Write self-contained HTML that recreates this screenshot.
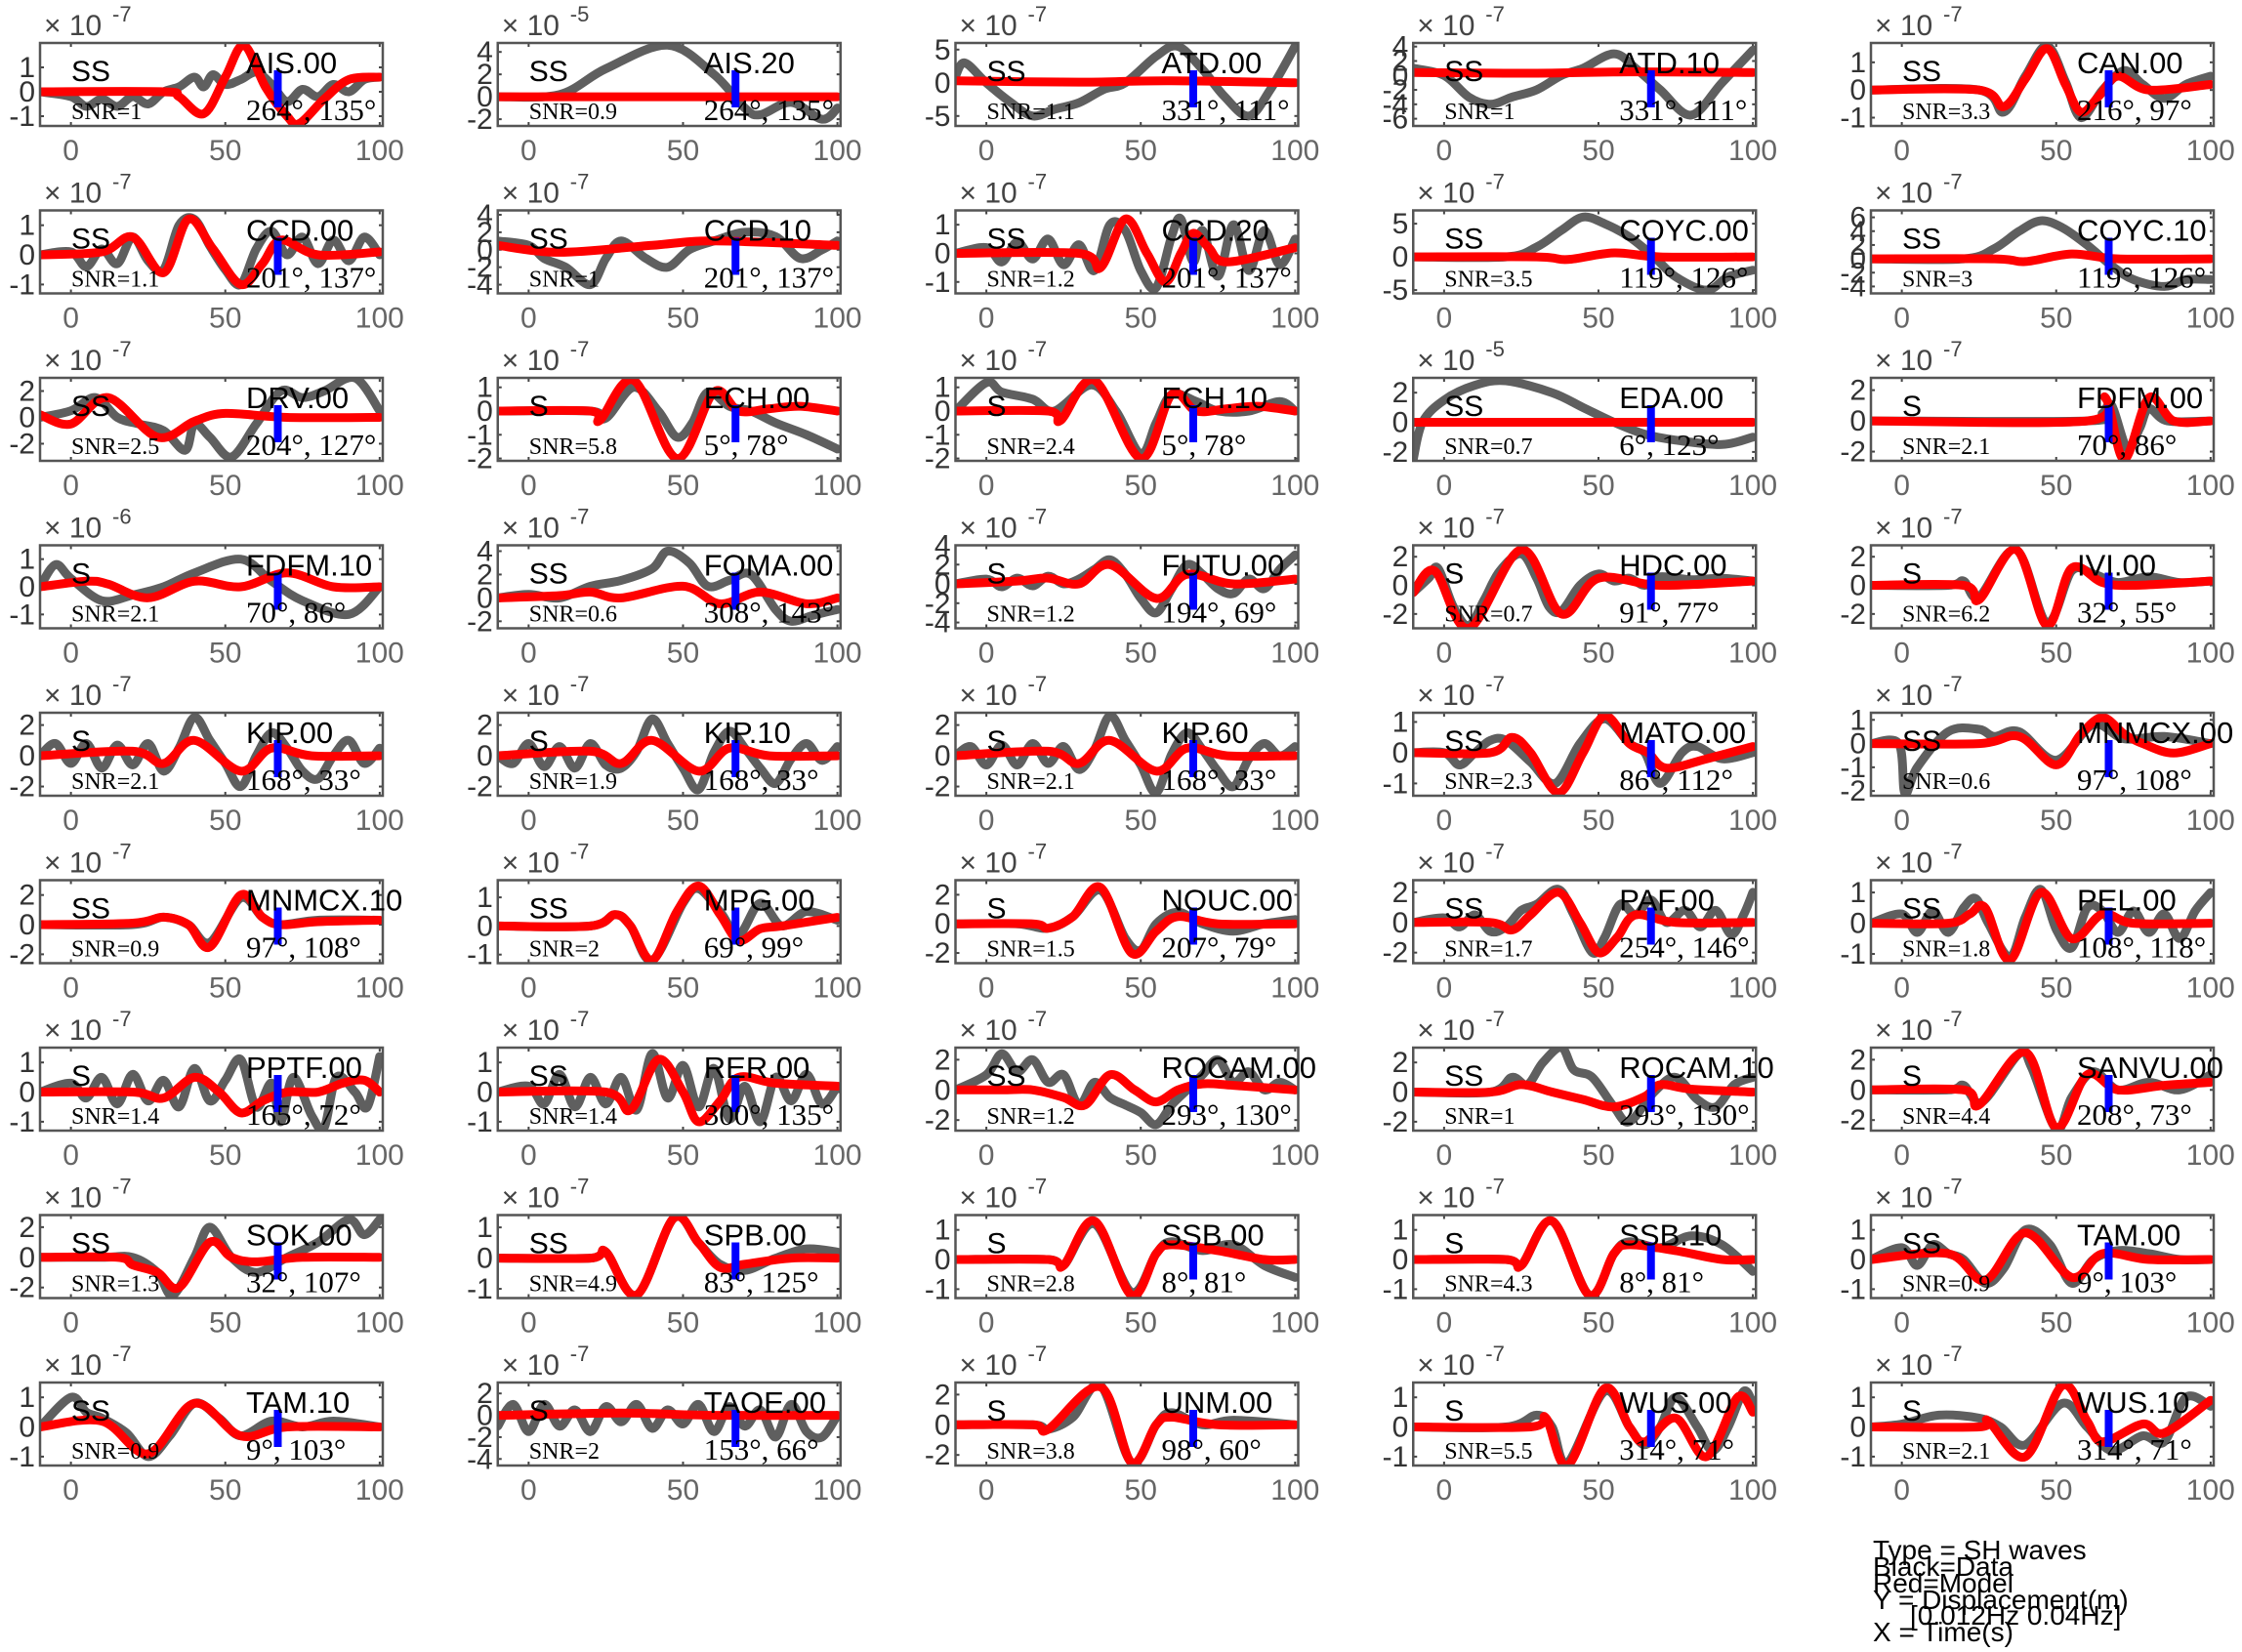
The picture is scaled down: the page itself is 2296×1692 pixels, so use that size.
<!DOCTYPE html>
<html><head><meta charset="utf-8"><title>SH waveform fits</title>
<style>
html,body{margin:0;padding:0;background:#fff;}
svg text{font-family:"Liberation Sans",sans-serif;}
.serif{font-family:"Liberation Serif",serif !important;}
</style></head>
<body>
<svg id="fig" width="2296" height="1687" viewBox="0 0 2296 1687" xmlns="http://www.w3.org/2000/svg">
<g id="panels"></g>
<g font-size="28" fill="#000">
<text x="1918" y="1597">Type = SH waves</text>
<text x="1918" y="1614">Black=Data</text>
<text x="1918" y="1631">Red=Model</text>
<text x="1918" y="1648">Y = Displacement(m)</text>
<text x="1956" y="1664">[0.012Hz 0.04Hz]</text>
<text x="1918" y="1681">X = Time(s)</text>
</g>
</svg>
<script>
const stations=["AIS.00","AIS.20","ATD.00","ATD.10","CAN.00","CCD.00","CCD.10","CCD.20","COYC.00","COYC.10","DRV.00","ECH.00","ECH.10","EDA.00","FDFM.00","FDFM.10","FOMA.00","FUTU.00","HDC.00","IVI.00","KIP.00","KIP.10","KIP.60","MATO.00","MNMCX.00","MNMCX.10","MPG.00","NOUC.00","PAF.00","PEL.00","PPTF.00","RER.00","ROCAM.00","ROCAM.10","SANVU.00","SOK.00","SPB.00","SSB.00","SSB.10","TAM.00","TAM.10","TAOE.00","UNM.00","WUS.00","WUS.10"];
const phases=["SS","SS","SS","SS","SS","SS","SS","SS","SS","SS","SS","S","S","SS","S","S","SS","S","S","S","S","S","S","SS","SS","SS","SS","S","SS","SS","S","SS","SS","SS","S","SS","SS","S","S","SS","SS","S","S","S","S"];
const snrs=["1","0.9","1.1","1","3.3","1.1","1","1.2","3.5","3","2.5","5.8","2.4","0.7","2.1","2.1","0.6","1.2","0.7","6.2","2.1","1.9","2.1","2.3","0.6","0.9","2","1.5","1.7","1.8","1.4","1.4","1.2","1","4.4","1.3","4.9","2.8","4.3","0.9","0.9","2","3.8","5.5","2.1"];
const azimuths=[264,264,331,331,216,201,201,201,119,119,204,5,5,6,70,70,308,194,91,32,168,168,168,86,97,97,69,207,254,108,165,300,293,293,208,32,83,8,8,9,9,153,98,314,314];
const takeoffs=[135,135,111,111,97,137,137,137,126,126,127,78,78,123,86,86,143,69,77,55,33,33,33,112,108,108,99,79,146,118,72,135,130,130,73,107,125,81,81,103,103,66,60,71,71];
const exponents=[-7,-5,-7,-7,-7,-7,-7,-7,-7,-7,-7,-7,-7,-5,-7,-6,-7,-7,-7,-7,-7,-7,-7,-7,-7,-7,-7,-7,-7,-7,-7,-7,-7,-7,-7,-7,-7,-7,-7,-7,-7,-7,-7,-7,-7];
const yTicks=[[-1,0,1],[-2,0,2,4],[-5,0,5],[-6,-4,-2,0,2,4],[-1,0,1],
[-1,0,1],[-4,-2,0,2,4],[-1,0,1],[-5,0,5],[-4,-2,0,2,4,6],
[-2,0,2],[-2,-1,0,1],[-2,-1,0,1],[-2,0,2],[-2,0,2],
[-1,0,1],[-2,0,2,4],[-4,-2,0,2,4],[-2,0,2],[-2,0,2],
[-2,0,2],[-2,0,2],[-2,0,2],[-1,0,1],[-2,-1,0,1],
[-2,0,2],[-1,0,1],[-2,0,2],[-2,0,2],[-1,0,1],
[-1,0,1],[-1,0,1],[-2,0,2],[-2,0,2],[-2,0,2],
[-2,0,2],[-1,0,1],[-1,0,1],[-1,0,1],[-1,0,1],
[-1,0,1],[-4,-2,0,2],[-2,0,2],[-1,0,1],[-1,0,1]];
const yMins=[-1.4,-2.6,-6.5,-7,-1.3,-1.3,-5,-1.4,-5.5,-5,-3.3,-2.1,-2.1,-2.6,-2.6,-1.5,-2.6,-4.6,-3,-3,-2.6,-2.6,-2.6,-1.4,-2.2,-2.6,-1.3,-2.7,-2.7,-1.3,-1.3,-1.3,-2.7,-2.6,-2.7,-2.7,-1.3,-1.3,-1.3,-1.3,-1.3,-4.6,-2.7,-1.3,-1.3];
const yMaxs=[2.0,4.8,6,4.5,1.7,1.5,4.5,1.5,7,7,3.0,1.4,1.4,3,2.8,1.5,4.5,4,2.8,2.8,2.8,2.8,2.8,1.3,1.3,3,1.6,3,2.8,1.4,1.5,1.5,2.8,3,2.8,2.8,1.4,1.5,1.5,1.5,1.5,3,2.8,1.5,1.5];
const dataSeries=[
[[-10,0],[0,-0.2],[5,-0.6],[10,-0.3],[15,-0.6],[20,-0.2],[25,-0.5],[30,0],[35,0.2],[40,0.6],[43,0.2],[46,0.7],[50,0.3],[55,0.5],[60,0.8],[65,0.3],[70,-0.4],[75,0.1],[80,-0.2],[85,0.3],[90,0],[95,0.5],[100,0.6]],
[[-10,0],[10,0.2],[25,2.5],[45,4.6],[60,2],[70,-1],[75,-1.6],[85,-0.5],[95,-2],[100,-1]],
[[-10,1],[-7,3],[0,0],[8,-3],[15,-5],[22,-4],[30,-3],[38,-1],[45,0],[55,4],[62,5.5],[70,2],[77,-2],[85,-5],[92,-1],[100,5.5]],
[[-10,1],[0,0],[8,-3],[15,-4],[22,-3],[30,-2],[38,0],[45,1],[55,3],[62,1],[70,-2],[80,-5.5],[90,-1],[100,3.5]],
[[-10,0],[25,0],[33,-0.8],[40,0.5],[47,1.6],[53,0.3],[58,-1],[65,0],[72,0.7],[78,0.2],[85,-0.3],[92,0.2],[100,0.5]],
[[-10,0],[0,0.1],[5,-0.4],[10,0.2],[15,-0.3],[20,0.6],[25,-0.2],[30,-0.5],[35,1],[40,1.2],[45,0.3],[50,-0.5],[55,-1],[60,0.2],[65,0.8],[70,0],[75,0.6],[80,-0.3],[85,0.5],[90,-0.2],[95,0.6],[100,0]],
[[-10,1],[0,0.5],[5,-1],[12,-2],[20,-4],[25,-1],[30,1],[38,-1],[45,-2],[52,0],[60,1],[70,2],[80,1.5],[88,-1],[95,0],[100,1]],
[[-10,0],[0,0.2],[5,-0.3],[10,0.4],[15,-0.2],[20,0.5],[25,-0.4],[30,0.3],[35,-0.6],[40,1],[45,0.8],[50,-0.6],[55,-1.2],[60,0.6],[63,1.2],[67,-0.3],[70,0.8],[75,-0.8],[80,1],[85,-0.6],[90,0.8],[95,-0.4],[100,0.5]],
[[-10,0],[20,0],[30,1.5],[38,4],[45,6],[52,5],[60,3],[68,0],[75,-3],[85,-5],[92,-3],[100,-2]],
[[-10,0],[20,0],[30,1.5],[38,4],[45,5.5],[52,4.5],[60,2],[68,-1],[75,-3],[85,-4],[92,-3],[100,-3]],
[[-10,0],[0,0.5],[8,1.5],[15,0],[22,-0.5],[30,-1],[37,-2.5],[40,-0.5],[45,-1.5],[52,-3],[60,-0.5],[68,2],[75,1.5],[82,2],[92,3],[100,0.5]],
[[-10,0],[20,0],[25,-0.3],[34,1],[42,0],[48,-1.1],[53,-0.5],[58,0.8],[65,0.2],[72,0],[80,-0.5],[90,-1],[100,-1.6]],
[[-10,0],[0,1.2],[5,0.8],[15,0.5],[22,0],[34,1.1],[42,0],[50,-1.8],[55,-0.5],[60,0.7],[68,0.4],[75,0],[85,0],[95,0.4],[100,0]],
[[-10,-2.5],[-7,0],[0,1.5],[10,2.5],[20,2.8],[35,2],[45,1],[55,0],[65,-0.8],[75,-1.2],[90,-1.5],[100,-1]],
[[-10,0],[60,0],[65,0.5],[68,1],[73,-1.8],[77,-0.5],[80,0.8],[86,0],[100,0]],
[[-10,0],[-5,0.8],[0,0.3],[10,-0.5],[20,-0.3],[30,0],[40,0.5],[55,1],[65,0.2],[75,-0.5],[90,-1],[100,0]],
[[-10,0],[0,0.3],[10,0],[20,1],[30,1.5],[40,2.5],[45,4],[52,3],[58,1],[65,1.5],[72,2],[80,-1],[85,-2],[92,-1.5],[100,-1]],
[[-10,0],[0,0.5],[5,-0.3],[10,0.6],[15,-0.2],[20,0.8],[25,0],[30,0.5],[35,1.5],[40,2.5],[45,1],[50,-1.5],[55,-3],[60,-0.5],[65,2],[70,1],[75,-0.5],[80,-1],[85,0.5],[90,-0.5],[95,1.5],[100,3]],
[[-10,-0.5],[-5,0.5],[-2,1.2],[3,-1.5],[8,-2.8],[13,-1],[18,1],[25,2.2],[30,0.5],[34,-1.5],[38,-1.8],[44,0],[50,0.8],[55,0.3],[60,0.5],[65,0],[70,0.6],[80,0.4],[90,0.5],[100,0.3]],
[[-10,0],[15,0],[20,0.3],[25,-0.8],[37,2.5],[47,-2.6],[55,1],[62,0.8],[70,0.2],[80,0.6],[90,0.2],[100,0.3]],
[[-10,0],[-5,0.8],[0,-0.5],[5,0.8],[10,-0.8],[15,0.7],[20,-0.6],[25,0.8],[30,-1],[35,0.5],[40,2.5],[45,1],[50,-0.5],[55,-2],[60,0],[65,1.5],[70,0.5],[75,-1],[80,-1.5],[85,0],[90,1],[95,-0.5],[100,0.5]],
[[-10,0],[-5,-0.5],[0,0.8],[5,-0.7],[10,0.6],[15,-0.8],[20,0.8],[25,-0.6],[30,-0.8],[35,0.3],[40,2.4],[45,0.8],[50,-0.8],[55,-2.2],[60,0.2],[65,1.6],[70,0.5],[75,-0.8],[80,-1.8],[85,-0.2],[90,0.8],[95,-0.3],[100,0.6]],
[[-10,0],[-5,0.6],[0,-0.6],[5,0.7],[10,-0.6],[15,0.8],[20,-0.5],[25,0.6],[30,-0.9],[35,0.4],[40,2.6],[45,1],[50,-0.6],[55,-2.4],[60,0.1],[65,1.5],[70,0.4],[75,-1],[80,-2],[85,-0.2],[90,0.8],[95,0],[100,0.6]],
[[-10,0],[0,0],[5,-0.4],[10,0],[15,0.4],[20,0.4],[28,-0.3],[36,-1],[44,0.3],[52,1.1],[60,0.3],[65,0],[70,-1],[77,0],[82,0.2],[90,-0.2],[100,0]],
[[-10,0],[-1,0],[1,-2.1],[5,-1],[15,0.5],[25,0.6],[30,0.3],[38,0.5],[50,-0.7],[62,0.8],[72,0.2],[85,0.3],[100,0]],
[[-10,0],[20,0],[30,0.5],[38,0],[45,-1.2],[55,1.8],[62,0.5],[68,0],[80,0.3],[100,0.3]],
[[-10,0],[20,0],[28,0.4],[33,0],[40,-1.2],[50,0.8],[55,1.3],[62,0.5],[68,-0.3],[75,0.8],[82,0],[90,0.5],[100,0.2]],
[[-10,0],[10,0],[20,-0.3],[28,0.5],[37,2.3],[45,-1],[50,-1.8],[55,0],[62,0.8],[70,0],[80,-0.5],[90,0],[100,0.3]],
[[-10,0],[0,0.3],[5,-0.3],[10,0.5],[15,-0.6],[20,-0.3],[25,0.8],[30,1.2],[37,2.2],[42,0.5],[48,-2],[52,-1],[57,1.2],[62,0.5],[67,1.5],[72,0],[78,0.8],[83,-0.3],[88,0.8],[93,-0.8],[97,0.5],[100,2]],
[[-10,0],[0,0.3],[5,-0.3],[10,0.4],[15,-0.3],[20,0.5],[24,0.8],[28,0],[35,-1.1],[40,0.2],[45,1.1],[50,-0.2],[55,-0.8],[60,0.5],[65,0.4],[70,-0.3],[75,0.4],[80,-0.3],[85,0.3],[90,-0.5],[95,0.4],[100,1]],
[[-10,0],[0,0.3],[5,-0.2],[10,0.5],[15,-0.4],[20,0.6],[25,-0.3],[30,0.4],[35,-0.5],[40,0.8],[45,-0.3],[50,0.4],[55,1.1],[60,-0.5],[65,0.3],[68,-1],[72,0.5],[78,-0.8],[82,-1.2],[86,0.5],[92,0],[96,-0.5],[100,1.2]],
[[-10,0],[0,0.2],[5,-0.4],[10,0.6],[15,-0.5],[20,0.5],[25,-0.4],[30,0.5],[35,-0.6],[40,1.3],[45,-0.2],[50,0.9],[55,-0.5],[60,0.8],[65,-0.9],[70,0.2],[75,-1],[80,0.5],[85,-0.3],[90,0.6],[95,-0.4],[100,0.2]],
[[-10,0],[0,1],[5,2.4],[10,1.2],[15,2],[20,0.5],[25,1],[30,-1],[35,0.5],[40,-0.5],[45,-1],[50,-1.5],[55,-2.3],[60,-1],[65,0],[70,1],[75,2],[80,0.5],[85,1.2],[90,0],[95,0.5],[100,0]],
[[-10,0],[15,0],[22,1],[27,0.5],[32,2],[38,3],[42,1.5],[48,1],[55,-1],[60,-2],[68,0],[75,1],[82,-0.5],[88,-1],[94,0.5],[100,1]],
[[-10,0],[15,0],[20,0.3],[26,-0.8],[38,2.4],[42,1.5],[50,-2.6],[55,-0.5],[62,1.2],[70,0],[80,0.5],[90,0],[100,1]],
[[-10,0],[10,0],[20,0],[28,-1],[33,-2.5],[40,0],[45,2],[52,0],[60,-1],[70,0],[80,1],[90,2.5],[95,1.5],[100,2.5]],
[[-10,0],[20,0],[25,0.2],[35,-1.2],[47,1.3],[55,0.5],[62,-0.2],[70,-0.4],[80,0],[90,0.3],[100,0.2]],
[[-10,0],[20,0],[25,-0.2],[35,1.2],[47,-1.1],[55,0.2],[60,0.6],[70,0.3],[80,0.5],[90,-0.2],[100,-0.6]],
[[-10,0],[20,0],[25,-0.2],[35,1.3],[47,-1.2],[55,0.2],[60,0.6],[70,0.4],[80,0.8],[90,0.5],[100,-0.4]],
[[-10,0],[0,0.4],[5,-0.2],[10,0.5],[15,0.2],[20,0],[27,-0.8],[33,-0.3],[40,1],[48,0.5],[55,-0.8],[62,0],[70,0.3],[80,0.2],[90,0],[100,0]],
[[-10,0],[0,1],[5,0.5],[10,0.3],[18,-0.2],[25,-1],[32,-0.3],[40,0.8],[48,0.3],[55,-0.3],[65,0.2],[75,0],[85,0.2],[100,0]],
[[-10,-1],[-5,1],[0,-1.5],[5,1],[10,-1],[15,0.5],[20,-1.5],[25,0.8],[30,-0.6],[35,1],[40,-1.2],[45,0.5],[50,-0.8],[55,1],[60,-1.5],[65,0.8],[70,-1],[75,0.5],[80,-2],[85,1],[90,-1.5],[95,-2],[100,0]],
[[-10,0],[15,0],[20,-0.3],[28,0.5],[37,2.6],[47,-2.5],[55,0],[60,0.8],[70,0],[80,0.3],[100,0]],
[[-10,0],[20,0],[30,0.4],[35,0],[40,-1.2],[52,1.2],[60,0],[65,-0.6],[70,0],[75,1],[82,0],[87,-0.8],[92,0],[97,1.2],[100,0.8]],
[[-10,0],[0,0.1],[12,0.4],[25,0.3],[32,0],[40,-0.6],[52,0.8],[60,0],[68,-0.8],[78,-0.3],[85,-0.5],[92,1],[100,0.7]]
];
const modelSeries=[
[[-10,0],[30,0],[35,-0.2],[43,-0.9],[50,0.6],[56,1.9],[63,0.2],[70,-1],[74,-1.3],[82,-0.3],[90,0.5],[100,0.6]],
[[-10,0],[100,0]],
[[-10,0.3],[30,0.1],[60,0.3],[100,0]],
[[-10,0.4],[30,0.3],[60,0.5],[100,0.4]],
[[-10,0],[25,0],[33,-0.6],[40,0.4],[47,1.5],[53,0.2],[58,-0.8],[64,-0.2],[70,0.5],[80,0],[100,0.2]],
[[-10,0],[10,0.1],[20,0.6],[30,-0.6],[38,1.2],[46,0.2],[55,-1],[62,-0.3],[68,0.5],[80,0],[100,0.1]],
[[-10,0.5],[10,-0.3],[40,0.5],[60,1],[100,0.5]],
[[-10,0],[30,0],[37,-0.5],[45,1.2],[52,0],[58,-1],[63,0],[67,0.7],[72,0.2],[78,-0.3],[100,0.2]],
[[-10,0],[30,0],[40,-0.4],[55,0.6],[70,0],[100,0]],
[[-10,0],[30,0],[40,-0.4],[55,0.7],[70,0],[100,0]],
[[-10,0.2],[0,-0.5],[12,1.5],[28,-1.5],[40,-0.3],[50,0.3],[70,0],[100,0]],
[[-10,0],[20,0],[23,-0.4],[34,1.3],[48,-2],[60,0.8],[68,0],[78,0.1],[88,0.2],[100,0]],
[[-10,0],[20,0],[24,-0.4],[35,1.3],[50,-2],[60,0.7],[68,0],[78,0.1],[88,0.2],[100,0]],
[[-10,0],[100,0]],
[[-10,0],[60,0],[66,1.5],[72,-2.5],[80,1.5],[88,0],[100,0]],
[[-10,0],[5,0.2],[12,0.1],[25,-0.4],[40,0.2],[55,0],[70,0.5],[85,0],[100,0]],
[[-10,0],[10,0.2],[20,0.5],[30,0],[50,1],[62,-0.5],[75,0.5],[90,-0.5],[100,0]],
[[-10,0],[10,0.3],[20,0.6],[30,0],[40,2],[55,-1.5],[65,1],[80,0],[100,0.5]],
[[-10,-0.5],[-3,1],[8,-3],[25,2.5],[38,-2],[50,0.5],[70,0],[100,0.3]],
[[-10,0],[20,0],[25,-1],[37,2.5],[47,-2.8],[55,1.2],[65,0.2],[75,0],[100,0.3]],
[[-10,0],[20,0.3],[30,-0.5],[40,1],[55,-1],[65,0.5],[78,0],[100,0]],
[[-10,0],[20,0.3],[30,-0.5],[40,1],[55,-1],[65,0.5],[78,0],[100,0]],
[[-10,0],[20,0.3],[30,-0.5],[40,1],[55,-1],[65,0.5],[78,0],[100,0]],
[[-10,0],[15,0],[22,0.5],[28,0],[37,-1.3],[45,0],[52,1.2],[60,0.3],[66,0],[72,-0.5],[85,-0.2],[100,0.2]],
[[-10,0],[25,0],[38,0.3],[50,-0.9],[58,0.4],[65,1.1],[72,0.4],[78,0],[88,-0.4],[100,0]],
[[-10,0],[20,0.1],[30,0.5],[38,0],[45,-1.5],[55,2],[62,0.5],[68,0],[80,0.2],[100,0.3]],
[[-10,0],[20,0],[28,0.4],[33,0],[40,-1.2],[48,0.5],[55,1.4],[62,0.4],[68,-0.5],[75,-0.1],[82,0],[100,0.3]],
[[-10,0],[15,0],[20,-0.3],[28,0.5],[37,2.5],[47,-2],[55,-0.5],[62,0.5],[75,0],[100,0]],
[[-10,0],[15,0],[22,-0.5],[28,0.5],[37,2],[44,0],[50,-2],[56,-1],[62,0.5],[75,0],[100,0]],
[[-10,0],[15,0],[22,0.3],[27,0.5],[35,-1.2],[45,1],[55,-0.5],[65,0.3],[75,0],[100,0]],
[[-10,0],[20,0],[30,-0.2],[40,0.5],[48,0],[55,-0.7],[62,-0.3],[70,0],[80,0],[88,0.3],[95,0.4],[100,0]],
[[-10,0],[25,0],[33,-0.6],[42,1.1],[50,0],[55,-1],[62,-0.3],[68,0.5],[80,0.3],[100,0.2]],
[[-10,0],[5,0],[15,0],[25,-0.5],[32,-1],[40,1],[48,0],[55,-0.8],[62,0],[70,0.4],[80,0.3],[100,0]],
[[-10,0],[15,0],[25,0.5],[35,0],[45,-0.5],[55,-1],[65,-0.3],[70,0.5],[80,0.2],[100,0]],
[[-10,0],[20,0],[25,-1],[40,2.5],[50,-2.5],[60,1],[70,0],[85,0.3],[100,0.5]],
[[-10,0],[15,0],[20,-0.5],[28,-1],[35,-2],[45,1],[52,0],[60,-0.3],[75,0],[100,0]],
[[-10,0],[20,0],[25,0.2],[35,-1.2],[47,1.3],[55,0.5],[62,-0.3],[70,-0.2],[85,0],[100,0]],
[[-10,0],[20,0],[25,-0.2],[35,1.3],[47,-1.2],[55,0.2],[60,0.5],[75,0.3],[90,0],[100,0]],
[[-10,0],[20,0],[25,-0.2],[35,1.3],[47,-1.2],[55,0.2],[60,0.5],[75,0.3],[90,0],[100,0]],
[[-10,0],[15,0.2],[27,-0.7],[40,0.9],[55,-0.6],[65,0.2],[80,0],[100,0]],
[[-10,0],[10,0.2],[25,-0.9],[40,0.8],[55,-0.3],[70,0],[100,0]],
[[-10,0],[30,0.2],[60,0],[100,0]],
[[-10,0],[15,0],[20,-0.3],[37,2.5],[47,-2.5],[55,0],[60,0.5],[75,0],[100,0]],
[[-10,0],[28,0],[33,0.3],[40,-1.3],[52,1.3],[60,0],[65,-0.5],[75,0.3],[85,-1],[95,1],[100,0.5]],
[[-10,0],[25,0],[28,0.2],[40,-1],[52,1.4],[60,0.2],[65,-0.5],[78,0.1],[85,-0.2],[100,0.9]]
];
const xTicks=[0,50,100];
const xMin=-10, xMax=101;

const NS="http://www.w3.org/2000/svg";
const root=document.getElementById('panels');
const BW=351, BH=85;
function mk(tag,attrs,parent){const e=document.createElementNS(NS,tag);for(const k in attrs)e.setAttribute(k,attrs[k]);parent.appendChild(e);return e;}
function smoothPath(pts){
  if(pts.length<2)return '';
  let d='M'+pts[0][0].toFixed(1)+','+pts[0][1].toFixed(1);
  for(let i=0;i<pts.length-1;i++){
    const p0=pts[Math.max(0,i-1)],p1=pts[i],p2=pts[i+1],p3=pts[Math.min(pts.length-1,i+2)];
    const c1x=p1[0]+(p2[0]-p0[0])/6,c1y=p1[1]+(p2[1]-p0[1])/6;
    const c2x=p2[0]-(p3[0]-p1[0])/6,c2y=p2[1]-(p3[1]-p1[1])/6;
    d+=' C'+c1x.toFixed(1)+','+c1y.toFixed(1)+' '+c2x.toFixed(1)+','+c2y.toFixed(1)+' '+p2[0].toFixed(1)+','+p2[1].toFixed(1);
  }
  return d;
}
stations.forEach((st,i)=>{
  const c=i%5, r=Math.floor(i/5);
  const L=41+c*468.75, T=44+r*171.5;
  const xs=t=>L+(t-xMin)/(xMax-xMin)*BW;
  const ys=v=>T+(yMaxs[i]-v)/(yMaxs[i]-yMins[i])*BH;
  const g=mk('g',{},root);
  
  
  const cid='clip'+i;
  const cp=mk('clipPath',{id:cid},g);
  mk('rect',{x:L,y:T,width:BW,height:BH},cp);
  const bg=mk('rect',{x:L,y:T,width:BW,height:BH,fill:'#fff'},g);
  
  
  // ticks
  xTicks.forEach(t=>{
    const x=xs(t);
    mk('line',{x1:x,y1:T+BH,x2:x,y2:T+BH-4,stroke:'#444','stroke-width':2},g);
    mk('line',{x1:x,y1:T,x2:x,y2:T+4,stroke:'#444','stroke-width':2},g);
    const tx=mk('text',{x:x,y:T+BH+35,'font-size':30,fill:'#666','text-anchor':'middle'},g);
    tx.textContent=t;
    
    
  });
  yTicks[i].forEach(v=>{
    const y=ys(v);
    mk('line',{x1:L,y1:y,x2:L+4,y2:y,stroke:'#444','stroke-width':2},g);
    mk('line',{x1:L+BW,y1:y,x2:L+BW-4,y2:y,stroke:'#444','stroke-width':2},g);
    const ty=mk('text',{x:L-5,y:y+10,'font-size':30,fill:'#333','text-anchor':'end'},g);
    ty.textContent=v;
    
    
  });
  const cl=mk('g',{'clip-path':'url(#'+cid+')'},g);
  const dp=mk('path',{d:smoothPath(dataSeries[i].map(p=>[xs(p[0]),ys(p[1])])),fill:'none',stroke:'#5f5f5f','stroke-width':9,'stroke-linejoin':'round','stroke-linecap':'round'},cl);
  
  
  const mp=mk('path',{d:smoothPath(modelSeries[i].map(p=>[xs(p[0]),ys(p[1])])),fill:'none',stroke:'#ff0000','stroke-width':9,'stroke-linejoin':'round','stroke-linecap':'round'},cl);
  
  
  const bar=mk('rect',{x:xs(67)-4,y:T+28,width:8,height:38,fill:'#0000ff'},g);
  
  
  const fr=mk('rect',{x:L,y:T,width:BW,height:BH,fill:'none',stroke:'#555','stroke-width':2.5},g);
  
  
  const ph=mk('text',{x:L+32,y:T+39,'font-size':30,fill:'#000'},g);
  ph.textContent=phases[i];
  
  
  const nm=mk('text',{x:L+211,y:T+31,'font-size':31,fill:'#000'},g);
  nm.textContent=st;
  
  
  const sn=mk('text',{x:L+32,y:T+78,'font-size':24,fill:'#000','class':'serif'},g);
  sn.textContent='SNR='+snrs[i];
  
  
  const an=mk('text',{x:L+211,y:T+79,'font-size':31,fill:'#000','class':'serif'},g);
  an.textContent=azimuths[i]+'°, '+takeoffs[i]+'°';
  
  
  const ex=mk('text',{x:L+4,y:T-8,'font-size':30,fill:'#444'},g);
  ex.textContent='× 10';
  
  
  const es=mk('text',{x:L+74,y:T-22,'font-size':22,fill:'#444'},g);
  es.textContent=exponents[i];
  
  
});
</script>
</body></html>
